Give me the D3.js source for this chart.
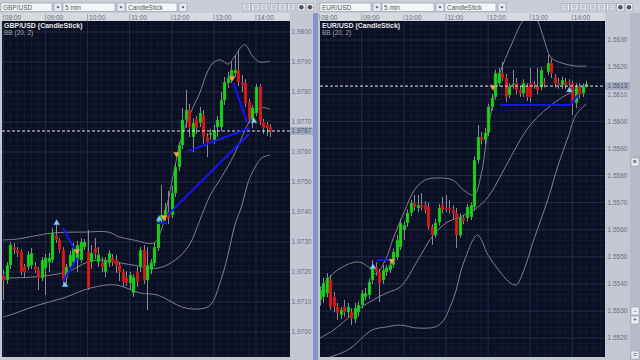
<!DOCTYPE html>
<html>
<head>
<meta charset="utf-8">
<script src="https://cdn.jsdelivr.net/npm/d3@7"></script>
<style>
  body { margin: 0; background: #c3c7d0; }
  svg { display: block; font-family: "Liberation Sans", Arial, sans-serif; }
</style>
</head>
<body>
<svg id="chart" width="640" height="360"></svg>
<script>
// ---- data (5 min candles from 08:00) ----
const timeTicks = ["08:00", "09:00", "10:00", "11:00", "12:00", "13:00", "14:00"];
const gbpPriceTicks = [1.9700, 1.9710, 1.9720, 1.9730, 1.9740, 1.9750, 1.9760, 1.9770, 1.9780, 1.9790, 1.9800];
const eurPriceTicks = [1.5520, 1.5530, 1.5540, 1.5550, 1.5560, 1.5570, 1.5580, 1.5590, 1.5600, 1.5610, 1.5620, 1.5630];

// [open, high, low, close]
const gbpCandles = [
  [1.97187, 1.97207, 1.97107, 1.97173], [1.97173, 1.97233, 1.97160, 1.97223], [1.97223, 1.97300, 1.97210, 1.97290],
  [1.97283, 1.97297, 1.97260, 1.97273], [1.97273, 1.97283, 1.97250, 1.97263], [1.97267, 1.97277, 1.97190, 1.97200],
  [1.97217, 1.97227, 1.97183, 1.97200], [1.97217, 1.97270, 1.97207, 1.97257], [1.97223, 1.97280, 1.97210, 1.97263],
  [1.97217, 1.97233, 1.97197, 1.97207], [1.97207, 1.97217, 1.97140, 1.97180], [1.97180, 1.97250, 1.97170, 1.97240],
  [1.97213, 1.97260, 1.97123, 1.97247], [1.97233, 1.97263, 1.97200, 1.97247], [1.97240, 1.97347, 1.97230, 1.97330],
  [1.97323, 1.97357, 1.97297, 1.97307], [1.97307, 1.97313, 1.97263, 1.97273], [1.97273, 1.97283, 1.97153, 1.97173],
  [1.97183, 1.97227, 1.97163, 1.97217], [1.97217, 1.97270, 1.97207, 1.97257], [1.97233, 1.97297, 1.97223, 1.97280],
  [1.97240, 1.97303, 1.97200, 1.97290], [1.97240, 1.97313, 1.97230, 1.97300], [1.97283, 1.97310, 1.97273, 1.97300],
  [1.97267, 1.97340, 1.97140, 1.97147], [1.97233, 1.97290, 1.97210, 1.97263], [1.97280, 1.97313, 1.97243, 1.97263],
  [1.97233, 1.97283, 1.97217, 1.97257], [1.97233, 1.97250, 1.97200, 1.97217], [1.97200, 1.97250, 1.97183, 1.97240],
  [1.97230, 1.97273, 1.97217, 1.97263], [1.97247, 1.97260, 1.97220, 1.97233], [1.97240, 1.97257, 1.97197, 1.97223],
  [1.97223, 1.97233, 1.97170, 1.97200], [1.97200, 1.97210, 1.97150, 1.97167], [1.97180, 1.97203, 1.97153, 1.97163],
  [1.97163, 1.97200, 1.97143, 1.97190], [1.97130, 1.97193, 1.97117, 1.97183], [1.97200, 1.97217, 1.97150, 1.97167],
  [1.97217, 1.97283, 1.97200, 1.97273], [1.97273, 1.97290, 1.97160, 1.97173], [1.97173, 1.97283, 1.97073, 1.97223],
  [1.97207, 1.97243, 1.97193, 1.97233], [1.97230, 1.97297, 1.97220, 1.97283], [1.97280, 1.97383, 1.97270, 1.97373],
  [1.97373, 1.97490, 1.97360, 1.97390], [1.97383, 1.97430, 1.97370, 1.97407], [1.97400, 1.97470, 1.97360, 1.97380],
  [1.97390, 1.97487, 1.97380, 1.97463], [1.97463, 1.97563, 1.97450, 1.97550], [1.97550, 1.97633, 1.97537, 1.97623],
  [1.97623, 1.97747, 1.97610, 1.97707], [1.97707, 1.97807, 1.97680, 1.97740], [1.97740, 1.97760, 1.97650, 1.97683],
  [1.97650, 1.97713, 1.97600, 1.97697], [1.97707, 1.97720, 1.97660, 1.97680], [1.97697, 1.97750, 1.97683, 1.97730],
  [1.97723, 1.97740, 1.97627, 1.97650], [1.97650, 1.97663, 1.97583, 1.97633], [1.97657, 1.97677, 1.97640, 1.97663],
  [1.97640, 1.97690, 1.97627, 1.97673], [1.97683, 1.97720, 1.97650, 1.97707], [1.97683, 1.97800, 1.97670, 1.97773],
  [1.97773, 1.97850, 1.97757, 1.97833], [1.97830, 1.97867, 1.97813, 1.97847], [1.97840, 1.97900, 1.97830, 1.97873],
  [1.97863, 1.97920, 1.97850, 1.97873], [1.97873, 1.97940, 1.97820, 1.97833], [1.97833, 1.97857, 1.97800, 1.97823],
  [1.97830, 1.97843, 1.97750, 1.97763], [1.97767, 1.97777, 1.97697, 1.97707], [1.97707, 1.97757, 1.97680, 1.97747],
  [1.97730, 1.97827, 1.97720, 1.97817], [1.97817, 1.97827, 1.97690, 1.97700], [1.97700, 1.97710, 1.97660, 1.97680],
  [1.97690, 1.97700, 1.97653, 1.97680], [1.97683, 1.97693, 1.97650, 1.97670]
];

const eurCandles = [
  [1.55341, 1.55390, 1.55320, 1.55378], [1.55352, 1.55422, 1.55330, 1.55403], [1.55366, 1.55440, 1.55350, 1.55422],
  [1.55414, 1.55433, 1.55304, 1.55315], [1.55352, 1.55370, 1.55296, 1.55315], [1.55315, 1.55330, 1.55267, 1.55293],
  [1.55285, 1.55315, 1.55270, 1.55304], [1.55315, 1.55341, 1.55280, 1.55296], [1.55296, 1.55330, 1.55275, 1.55315],
  [1.55296, 1.55310, 1.55248, 1.55274], [1.55270, 1.55330, 1.55255, 1.55311], [1.55296, 1.55335, 1.55280, 1.55322],
  [1.55322, 1.55378, 1.55310, 1.55366], [1.55352, 1.55385, 1.55340, 1.55366], [1.55359, 1.55420, 1.55345, 1.55407],
  [1.55414, 1.55488, 1.55400, 1.55462], [1.55462, 1.55480, 1.55430, 1.55444], [1.55444, 1.55455, 1.55333, 1.55403],
  [1.55414, 1.55470, 1.55400, 1.55451], [1.55444, 1.55470, 1.55430, 1.55459], [1.55451, 1.55480, 1.55440, 1.55470],
  [1.55470, 1.55530, 1.55460, 1.55518], [1.55499, 1.55580, 1.55488, 1.55562], [1.55536, 1.55640, 1.55525, 1.55625],
  [1.55599, 1.55630, 1.55562, 1.55617], [1.55625, 1.55675, 1.55610, 1.55662], [1.55662, 1.55710, 1.55650, 1.55699],
  [1.55699, 1.55728, 1.55670, 1.55684], [1.55680, 1.55728, 1.55665, 1.55691], [1.55691, 1.55735, 1.55670, 1.55684],
  [1.55691, 1.55705, 1.55660, 1.55673], [1.55684, 1.55700, 1.55600, 1.55610], [1.55610, 1.55620, 1.55544, 1.55580],
  [1.55580, 1.55640, 1.55570, 1.55625], [1.55628, 1.55695, 1.55615, 1.55680], [1.55691, 1.55721, 1.55660, 1.55673],
  [1.55680, 1.55728, 1.55665, 1.55677], [1.55680, 1.55710, 1.55660, 1.55673], [1.55673, 1.55690, 1.55640, 1.55662],
  [1.55662, 1.55680, 1.55532, 1.55580], [1.55580, 1.55660, 1.55570, 1.55647], [1.55643, 1.55655, 1.55620, 1.55632],
  [1.55643, 1.55695, 1.55630, 1.55684], [1.55647, 1.55700, 1.55635, 1.55691], [1.55684, 1.55870, 1.55670, 1.55857],
  [1.55857, 1.55986, 1.55845, 1.55942], [1.55942, 1.55960, 1.55915, 1.55931], [1.55931, 1.55975, 1.55915, 1.55957],
  [1.55957, 1.56065, 1.55945, 1.56053], [1.56053, 1.56100, 1.56040, 1.56086], [1.56090, 1.56190, 1.56080, 1.56178],
  [1.56141, 1.56197, 1.56130, 1.56178], [1.56178, 1.56219, 1.56150, 1.56160], [1.56160, 1.56175, 1.56071, 1.56090],
  [1.56097, 1.56140, 1.56085, 1.56127], [1.56134, 1.56189, 1.56120, 1.56138], [1.56141, 1.56160, 1.56100, 1.56115],
  [1.56115, 1.56130, 1.56090, 1.56104], [1.56104, 1.56155, 1.56090, 1.56141], [1.56127, 1.56140, 1.56075, 1.56090],
  [1.56141, 1.56197, 1.56070, 1.56090], [1.56138, 1.56150, 1.56120, 1.56134], [1.56127, 1.56197, 1.56100, 1.56115],
  [1.56127, 1.56200, 1.56115, 1.56189], [1.56145, 1.56160, 1.56125, 1.56138], [1.56182, 1.56245, 1.56170, 1.56215],
  [1.56215, 1.56230, 1.56160, 1.56178], [1.56163, 1.56175, 1.56125, 1.56141], [1.56141, 1.56160, 1.56120, 1.56134],
  [1.56134, 1.56165, 1.56120, 1.56152], [1.56145, 1.56160, 1.56120, 1.56134], [1.56145, 1.56155, 1.56130, 1.56141],
  [1.56141, 1.56150, 1.56023, 1.56068], [1.56068, 1.56140, 1.56049, 1.56127], [1.56127, 1.56140, 1.56085, 1.56097],
  [1.56104, 1.56140, 1.56090, 1.56127], [1.56130, 1.56150, 1.56125, 1.56138]
];

// Bollinger (20, 2) lines as [candle index, price]
const gbpUpper = [[0, 1.97307], [4, 1.97310], [14, 1.97330], [23, 1.97333], [30, 1.97333], [33, 1.97317], [37, 1.97307],
  [43, 1.97297], [45, 1.97340], [47, 1.97440], [49, 1.97557], [51, 1.97657], [54, 1.97747], [56, 1.97797], [58, 1.97863],
  [60, 1.97900], [62, 1.97907], [64, 1.97893], [66, 1.97920], [68, 1.97953], [69, 1.97957], [71, 1.97920], [73, 1.97900], [76, 1.97903]];
const gbpMiddle = [[0, 1.97180], [8, 1.97183], [18, 1.97200], [24, 1.97233], [28, 1.97240], [32, 1.97233], [37, 1.97223],
  [44, 1.97213], [49, 1.97240], [53, 1.97290], [56, 1.97373], [59, 1.97457], [62, 1.97513], [65, 1.97573], [67, 1.97623],
  [70, 1.97700], [73, 1.97747], [76, 1.97743]];
const gbpLower = [[0, 1.97050], [2, 1.97057], [10, 1.97090], [17, 1.97113], [25, 1.97147], [32, 1.97157], [39, 1.97130],
  [44, 1.97123], [51, 1.97083], [56, 1.97077], [59, 1.97090], [62, 1.97173], [64, 1.97257], [66, 1.97357], [68, 1.97423],
  [70, 1.97507], [73, 1.97573], [74, 1.97583], [76, 1.97590]];

const eurUpper = [[0, 1.55378], [2, 1.55414], [6, 1.55459], [11, 1.55481], [14, 1.55462], [16, 1.55437], [19, 1.55496],
  [21, 1.55569], [24, 1.55662], [27, 1.55746], [30, 1.55783], [34, 1.55791], [38, 1.55783], [41, 1.55746], [44, 1.55728],
  [46, 1.55802], [48, 1.55968], [51, 1.56163], [55, 1.56293], [58, 1.56374], [60, 1.56403], [62, 1.56374], [64, 1.56300],
  [66, 1.56234], [69, 1.56215], [73, 1.56204], [76, 1.56204]];
const eurMiddle = [[0, 1.55200], [4, 1.55230], [12, 1.55315], [19, 1.55366], [23, 1.55389], [28, 1.55488], [32, 1.55573],
  [36, 1.55625], [40, 1.55647], [44, 1.55673], [48, 1.55721], [52, 1.55809], [54, 1.55857], [60, 1.55986], [68, 1.56079], [76, 1.56134]];
const eurLower = [[0, 1.55119], [8, 1.55156], [15, 1.55230], [19, 1.55241], [23, 1.55248], [28, 1.55237], [34, 1.55248],
  [38, 1.55341], [41, 1.55477], [45, 1.55580], [48, 1.55506], [51, 1.55451], [54, 1.55407], [56, 1.55396], [58, 1.55444],
  [61, 1.55562], [65, 1.55710], [68, 1.55839], [71, 1.55949], [73, 1.56023], [76, 1.56064]];

// hand drawn trend lines and signal arrows, [candle index, price]
const gbpTrendLines = [
  [[17.0, 1.97347], [20.4, 1.97273]], [[21.3, 1.97247], [17.0, 1.97170]], [[43.8, 1.97363], [46.6, 1.97363]],
  [[52.6, 1.97603], [70.3, 1.97680]], [[46.6, 1.97387], [70.0, 1.97660]], [[65.7, 1.97830], [69.4, 1.97700]]
];
const gbpUpArrows = [[15.3, 1.97363], [17.6, 1.97157], [44.4, 1.97377], [71.4, 1.97703]];
const gbpDownArrows = [[21.0, 1.97270], [45.8, 1.97383], [49.5, 1.97593], [65.2, 1.97847]];

const eurTrendLines = [
  [[16.2, 1.55488], [20.8, 1.55488]], [[51.4, 1.56060], [71.4, 1.56060]], [[71.4, 1.56060], [73.7, 1.56097]]
];
const eurUpArrows = [[15.3, 1.55462], [71.3, 1.56115]];
const eurDownArrows = [[20.7, 1.55485], [49.4, 1.56127]];

const gbpLast = 1.9767;
const eurLast = 1.5613;

// ---- drawing ----
const svg = d3.select("#chart");
const day = d3.timeParse("%H:%M");
const candleTime = i => d3.timeMinute.offset(day("08:00"), 5 * i);

function drawPanel(cfg) {
  const g = svg.append("g");
  const top = 21, bottom = 357;

  // toolbar strip
  g.append("rect").attr("x", cfg.left).attr("y", 0).attr("width", cfg.right - cfg.left).attr("height", 13)
    .attr("fill", "#c9cdd6");
  const boxes = [[cfg.left + 1, 51, cfg.symbol], [cfg.left + 63, 52, "5 min"], [cfg.left + 126, 51, "CandleStick"]];
  boxes.forEach(b => {
    g.append("rect").attr("x", b[0]).attr("y", 3).attr("width", b[1]).attr("height", 8.5)
      .attr("fill", "#f4f5f8").attr("stroke", "#8d93a3").attr("stroke-width", 0.6);
    g.append("text").attr("x", b[0] + 2).attr("y", 10).attr("font-size", 6.5).attr("fill", "#555").text(b[2]);
    g.append("rect").attr("x", b[0] + b[1] + 2).attr("y", 3).attr("width", 8).attr("height", 8.5)
      .attr("fill", "#e7e9ee").attr("stroke", "#8d93a3").attr("stroke-width", 0.6);
    g.append("path").attr("d", `M${b[0] + b[1] + 4.5},6.5h3l-1.5,2z`).attr("fill", "#333");
  });
  // toolbar icons
  d3.range(8).forEach(k => {
    const ix = cfg.iconX + k * 8.6 + (k > 2 ? 1.5 : 0) + (k > 5 ? 1.5 : 0);
    g.append("rect").attr("x", ix).attr("y", 3.5).attr("width", 7.5).attr("height", 7.5)
      .attr("fill", "#e9ebf0").attr("stroke", "#9297a6").attr("stroke-width", 0.5);
    if (k > 5) {
      g.append("circle").attr("cx", ix + 3.75).attr("cy", 7.25).attr("r", 2.3).attr("fill", "#555");
    } else {
      [5.2, 7.2, 9.2].forEach(yy => g.append("line").attr("x1", ix + 1.5).attr("x2", ix + 6).attr("y1", yy).attr("y2", yy)
        .attr("stroke", "#7a7f8e").attr("stroke-width", 0.6));
    }
  });

  // time axis strip
  g.append("rect").attr("x", cfg.left).attr("y", 13).attr("width", cfg.plotRight - cfg.left).attr("height", 8)
    .attr("fill", "#d6d9e0");
  // price axis strip
  g.append("rect").attr("x", cfg.plotRight).attr("y", 13).attr("width", cfg.axisRight - cfg.plotRight).attr("height", bottom - 13)
    .attr("fill", "#c3c8d3");

  const x = d3.scaleTime().domain([day("08:00"), day("14:00")]).range(cfg.xRange);
  const y = d3.scaleLinear().domain(cfg.yDomain).range(cfg.yRange);

  // plot background
  const clipId = "clip" + cfg.symbol.replace("/", "");
  g.append("clipPath").attr("id", clipId).append("rect")
    .attr("x", cfg.plotLeft).attr("y", top).attr("width", cfg.plotRight - cfg.plotLeft).attr("height", bottom - top);
  g.append("rect").attr("x", cfg.plotLeft).attr("y", top).attr("width", cfg.plotRight - cfg.plotLeft).attr("height", bottom - top)
    .attr("fill", "#0a0f22");
  const plot = g.append("g").attr("clip-path", `url(#${clipId})`);

  // minor and major grid
  const tStart = d3.timeMinute.offset(day("08:00"), -60), tEnd = d3.timeMinute.offset(day("14:00"), 120);
  d3.timeMinute.every(10).range(tStart, tEnd).forEach(t => {
    const major = t.getMinutes() === 0;
    plot.append("line").attr("x1", x(t)).attr("x2", x(t)).attr("y1", top).attr("y2", bottom)
      .attr("stroke", major ? "#242d4a" : "#141b31").attr("stroke-width", 1);
  });
  d3.range(cfg.yDomain[0] - 0.002, cfg.yDomain[1] + 0.002, 0.0002).forEach(p => {
    const major = Math.abs(Math.round(p * 1000) - p * 1000) < 0.01;
    plot.append("line").attr("x1", cfg.plotLeft).attr("x2", cfg.plotRight).attr("y1", y(p)).attr("y2", y(p))
      .attr("stroke", major ? "#242d4a" : "#141b31").attr("stroke-width", 1);
  });

  // Bollinger bands
  const bandLine = d3.line().x(d => x(candleTime(d[0]))).y(d => y(d[1])).curve(d3.curveCatmullRom);
  [cfg.upper, cfg.middle, cfg.lower].forEach(band => {
    plot.append("path").datum(band).attr("d", bandLine).attr("fill", "none")
      .attr("stroke", "#7f8189").attr("stroke-width", 1);
  });

  // candles
  const c = plot.selectAll("g.candle").data(cfg.candles).join("g").attr("class", "candle");
  c.append("line")
    .attr("x1", (d, i) => Math.round(x(candleTime(i))) + 0.5).attr("x2", (d, i) => Math.round(x(candleTime(i))) + 0.5)
    .attr("y1", d => y(d[1])).attr("y2", d => y(d[2]))
    .attr("stroke", "#8a8a92").attr("stroke-width", 1);
  c.append("rect")
    .attr("x", (d, i) => Math.round(x(candleTime(i))) - 1)
    .attr("y", d => y(Math.max(d[0], d[3])))
    .attr("width", 3)
    .attr("height", d => Math.max(1, Math.abs(y(d[0]) - y(d[3]))))
    .attr("fill", d => d[3] >= d[0] ? "#1ed41e" : "#d81c1c")
    .attr("stroke", d => d[3] >= d[0] ? "#0f7a12" : "#7a1010").attr("stroke-width", 0.4);

  // current price dashed line
  plot.append("line").attr("x1", cfg.plotLeft).attr("x2", cfg.plotRight).attr("y1", y(cfg.last)).attr("y2", y(cfg.last))
    .attr("stroke", "#e8e8e8").attr("stroke-width", 1).attr("stroke-dasharray", "3,2");

  // trend lines
  cfg.trend.forEach(seg => {
    plot.append("line")
      .attr("x1", x(candleTime(seg[0][0]))).attr("y1", y(seg[0][1]))
      .attr("x2", x(candleTime(seg[1][0]))).attr("y2", y(seg[1][1]))
      .attr("stroke", "#1414ff").attr("stroke-width", 2);
  });

  // signal arrows
  const tri = d3.symbol(d3.symbolTriangle, 16);
  cfg.ups.forEach(a => {
    plot.append("path").attr("d", tri)
      .attr("transform", `translate(${x(candleTime(a[0]))},${y(a[1])})`)
      .attr("fill", "#86cdf2").attr("stroke", "#4d8fb8").attr("stroke-width", 0.4);
  });
  cfg.downs.forEach(a => {
    plot.append("path").attr("d", tri)
      .attr("transform", `translate(${x(candleTime(a[0]))},${y(a[1])}) rotate(180)`)
      .attr("fill", "#f6a94a").attr("stroke", "#b5742a").attr("stroke-width", 0.4);
  });

  // title
  g.append("text").attr("x", cfg.plotLeft + 2).attr("y", top + 7).attr("font-size", 7).attr("font-weight", "bold")
    .attr("fill", "#e6e6ea").text(`${cfg.symbol} (CandleStick)`);
  g.append("text").attr("x", cfg.plotLeft + 2).attr("y", top + 14).attr("font-size", 6.5)
    .attr("fill", "#a8a8b0").text("BB (20, 2)");

  // time axis
  timeTicks.forEach(s => {
    const tx = x(day(s));
    g.append("line").attr("x1", tx).attr("x2", tx).attr("y1", 14).attr("y2", 21).attr("stroke", "#8a8f9c").attr("stroke-width", 0.7);
    g.append("text").attr("x", tx + 1.5).attr("y", 19.5).attr("font-size", 6.5).attr("fill", "#6b6f7b").text(s);
  });

  // price axis
  const ax = (cfg.plotRight + cfg.axisRight) / 2;
  cfg.priceTicks.forEach(p => {
    g.append("text").attr("x", ax).attr("y", y(p) + 2.3).attr("text-anchor", "middle")
      .attr("font-size", 6.5).attr("fill", "#6b6f7b").text(p.toFixed(4));
  });
  g.append("rect").attr("x", cfg.plotRight).attr("y", y(cfg.last) - 4).attr("width", cfg.axisRight - cfg.plotRight).attr("height", 8)
    .attr("fill", "#a3abc3");
  g.append("text").attr("x", ax).attr("y", y(cfg.last) + 2.3).attr("text-anchor", "middle")
    .attr("font-size", 6.5).attr("fill", "#4e5261").text(cfg.last.toFixed(4));
}

drawPanel({
  symbol: "GBP/USD", left: 0, right: 316, plotLeft: 2, plotRight: 290, axisRight: 313, iconX: 243,
  xRange: [3.3, 256], yDomain: [1.97, 1.98], yRange: [332, 32],
  candles: gbpCandles, upper: gbpUpper, middle: gbpMiddle, lower: gbpLower,
  trend: gbpTrendLines, ups: gbpUpArrows, downs: gbpDownArrows, priceTicks: gbpPriceTicks, last: gbpLast
});
drawPanel({
  symbol: "EUR/USD", left: 319, right: 640, plotLeft: 320, plotRight: 605, axisRight: 630, iconX: 562,
  xRange: [319.6, 572.3], yDomain: [1.552, 1.563], yRange: [338.1, 40],
  candles: eurCandles, upper: eurUpper, middle: eurMiddle, lower: eurLower,
  trend: eurTrendLines, ups: eurUpArrows, downs: eurDownArrows, priceTicks: eurPriceTicks, last: eurLast
});

// frame separators and scrollbar
svg.append("rect").attr("x", 313).attr("y", 13).attr("width", 5).attr("height", 347).attr("fill", "#8593c9");
svg.append("rect").attr("x", 630).attr("y", 13).attr("width", 10).attr("height", 347).attr("fill", "#b6bbc7");
[[631, 158, "≡"], [631, 307, "-"], [631, 316, "+"], [631, 351, "="]].forEach(b => {
  svg.append("rect").attr("x", b[0]).attr("y", b[1]).attr("width", 8).attr("height", 8)
    .attr("fill", "#e8eaef").attr("stroke", "#8d93a3").attr("stroke-width", 0.5);
  svg.append("text").attr("x", b[0] + 4).attr("y", b[1] + 6.3).attr("text-anchor", "middle")
    .attr("font-size", 6.5).attr("fill", "#333").text(b[2]);
});
</script>
</body>
</html>
